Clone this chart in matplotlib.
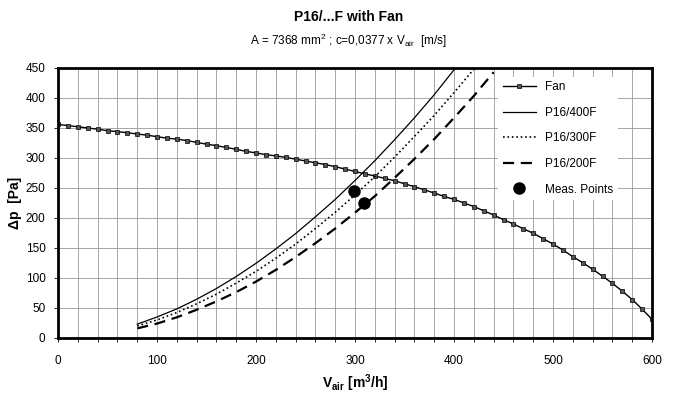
import matplotlib
matplotlib.use("Agg")
import matplotlib.pyplot as plt
from matplotlib.ticker import MultipleLocator

plt.rcParams['font.family'] = ['Liberation Sans', 'DejaVu Sans']

# fan curve, one marker every 10 m3/h
fan_x = list(range(0, 601, 10))
fan_dp = [356, 354, 352, 350, 348, 345.5, 344, 342, 340, 338,
          335.5, 333, 331.5, 329, 326, 323, 320.5, 317.5, 314.5, 311,
          308.5, 305.5, 303.5, 301, 298, 295, 292, 289, 285.5, 281.5,
          277.5, 273.5, 270, 266, 262, 257, 252, 247, 241.5, 236,
          231, 225, 219, 212, 205, 197, 190, 182, 174.5, 165.5,
          156.5, 146.5, 135.5, 125.5, 114.5, 103, 91, 78, 64, 48, 31]

# system curves
p400_x = [80, 100, 120, 140, 160, 180, 200, 220, 240, 260, 280, 300, 320, 340, 360, 380, 400]
p400_dp = [23, 35, 48.5, 64.5, 82.5, 102.5, 124.5, 148.5, 174, 202, 231, 262.5, 295.5, 330.5, 367, 405.5, 447]

p300_x = [80, 100, 120, 140, 160, 180, 200, 220, 240, 260, 280, 300, 320, 340, 360, 380, 400, 420]
p300_dp = [20, 30, 42.5, 57, 73, 91.5, 111, 133, 156.5, 182.5, 209.5, 238.5, 269, 301.5, 336, 371, 409, 448]

p200_x = [80, 100, 120, 140, 160, 180, 200, 220, 240, 260, 280, 300, 320, 340, 360, 380, 400, 420, 440]
p200_dp = [16, 24, 34.5, 47, 61, 76.5, 94, 113.5, 135, 158, 182.5, 209, 236.5, 267, 298.5, 331.5, 367, 403.5, 443]

meas_x = [299, 309]
meas_dp = [245.5, 225.5]

fig = plt.figure(figsize=(6.75, 3.93), dpi=100)
ax = fig.add_axes([0.086, 0.14, 0.88, 0.687])

ax.plot(fan_x, fan_dp, '-s', color='black', lw=1, ms=2.8,
        mfc='#555555', mec='black', mew=0.5, label='Fan')
ax.plot(p400_x, p400_dp, '-', color='black', lw=0.9, label='P16/400F')
ax.plot(p300_x, p300_dp, ':', color='black', lw=1.2, label='P16/300F')
ax.plot(p200_x, p200_dp, '--', color='black', lw=1.6, dashes=(5, 3), label='P16/200F')
ax.plot(meas_x, meas_dp, 'o', color='black', ms=8, ls='none', label='Meas. Points')

ax.set_xlim(0, 600)
ax.set_ylim(0, 450)
ax.xaxis.set_major_locator(MultipleLocator(100))
ax.xaxis.set_minor_locator(MultipleLocator(20))
ax.yaxis.set_major_locator(MultipleLocator(50))
ax.grid(which='major', axis='y', color='#999999', lw=0.6)
ax.grid(which='minor', axis='x', color='#999999', lw=0.6)
ax.grid(which='major', axis='x', color='#999999', lw=0.6)
ax.tick_params(which='both', direction='out', length=3, width=0.6, labelsize=8.5, pad=9)
ax.tick_params(axis='y', pad=6)
for s in ax.spines.values():
    s.set_linewidth(2)

ax.set_xlabel('V$_{\\mathregular{air}}$ [m$^{\\mathregular{3}}$/h]', fontsize=10, fontweight='bold', labelpad=4)
ax.set_ylabel('Δp  [Pa]', fontsize=10, fontweight='bold', labelpad=3)

fig.text(0.517, 0.958, 'P16/...F with Fan', ha='center', va='center', fontsize=10, fontweight='bold')
fig.text(0.516, 0.897, 'A = 7368 mm$^{\\mathregular{2}}$ ; c=0,0377 x V$_{\\mathregular{air}}$  [m/s]',
         ha='center', va='center', fontsize=8.5)

leg = ax.legend(loc='upper right', bbox_to_anchor=(0.953, 0.99), fontsize=8.5, frameon=True,
                facecolor='white', edgecolor='none', framealpha=1, fancybox=False,
                handlelength=2.8, labelspacing=1.15, borderpad=0.4)

fig.savefig('out.png', dpi=100)
